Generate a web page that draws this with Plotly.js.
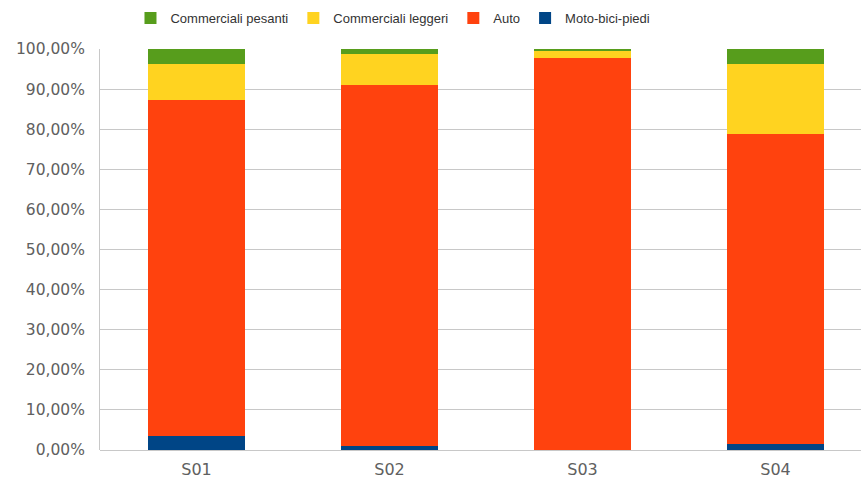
<!DOCTYPE html>
<html>
<head>
<meta charset="utf-8">
<script src="https://cdn.plot.ly/plotly-3.0.1.min.js"></script>
<style>html,body{margin:0;padding:0;background:#fff;}#chart{width:861px;height:488px;}</style>
</head>
<body>
<div id="chart"></div>
<script>
var categories = ["S01", "S02", "S03", "S04"];
var motoBiciPiedi = [3.5, 1.1, 0.0, 1.5];
var auto = [83.8, 89.9, 97.8, 77.4];
var commercialiLeggeri = [9.0, 7.8, 1.8, 17.3];
var commercialiPesanti = [3.7, 1.2, 0.4, 3.8];
var seriesNames = ["Moto-bici-piedi", "Auto", "Commerciali leggeri", "Commerciali pesanti"];
var seriesColors = ["#004586", "#ff420e", "#ffd320", "#579d1c"];
var seriesValues = [motoBiciPiedi, auto, commercialiLeggeri, commercialiPesanti];

var traces = seriesValues.map(function (vals, i) {
  return {
    type: "bar",
    name: seriesNames[i],
    x: categories,
    y: vals,
    marker: { color: seriesColors[i], line: { width: 0 } },
    hoverinfo: "name+y"
  };
});

var layout = {
  width: 861,
  height: 488,
  margin: { l: 100, r: 0, t: 49, b: 38, pad: 0 },
  paper_bgcolor: "#ffffff",
  plot_bgcolor: "#ffffff",
  barmode: "stack",
  bargap: 0.5,
  separators: ",.",
  showlegend: true,
  legend: {
    orientation: "h",
    traceorder: "reversed",
    x: 0.385,
    xanchor: "center",
    y: 1.077,
    yanchor: "middle",
    font: { family: "Liberation Sans, Arial, sans-serif", size: 13, color: "#333333" },
    itemwidth: 30,
    bgcolor: "rgba(0,0,0,0)"
  },
  xaxis: {
    type: "category",
    range: [-0.5, 3.443],
    showgrid: false,
    zeroline: false,
    showline: false,
    ticks: "",
    ticklabelstandoff: 8,
    tickfont: { family: "DejaVu Sans, sans-serif", size: 16, color: "#606060" }
  },
  yaxis: {
    range: [0, 100],
    dtick: 10,
    tick0: 0,
    tickformat: ".2f",
    ticksuffix: "%",
    showgrid: true,
    gridcolor: "#c8c8c8",
    gridwidth: 1,
    zeroline: true,
    zerolinecolor: "#c8c8c8",
    zerolinewidth: 1,
    showline: true,
    linecolor: "#c8c8c8",
    linewidth: 1,
    ticks: "",
    ticklabelstandoff: 11,
    tickfont: { family: "DejaVu Sans, sans-serif", size: 15.5, color: "#606060" }
  }
};

Plotly.newPlot("chart", traces, layout, { displayModeBar: false, staticPlot: true });
</script>
</body>
</html>
